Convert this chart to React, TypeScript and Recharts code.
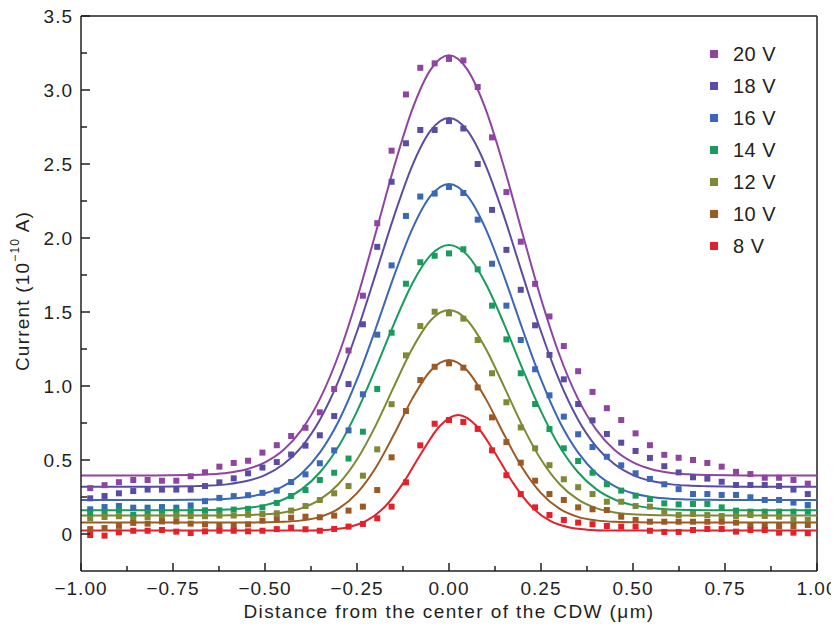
import React from 'react';
import { ComposedChart, Line, Scatter, XAxis, YAxis, ReferenceLine, Legend } from 'recharts';

// sample positions of the measured points (um)
const xPoints = [
  -0.975, -0.936, -0.897, -0.858, -0.819, -0.78, -0.741, -0.702, -0.663, -0.624,
  -0.585, -0.546, -0.507, -0.468, -0.429, -0.39, -0.351, -0.312, -0.273, -0.234,
  -0.195, -0.156, -0.117, -0.078, -0.039, 0, 0.039, 0.078, 0.117, 0.156,
  0.195, 0.234, 0.273, 0.312, 0.351, 0.39, 0.429, 0.468, 0.507, 0.546,
  0.585, 0.624, 0.663, 0.702, 0.741, 0.78, 0.819, 0.858, 0.897, 0.936, 0.975,
];

// measured currents (1e-10 A)
const pts20 = [0.31, 0.33, 0.35, 0.365, 0.365, 0.36, 0.36, 0.39, 0.417, 0.455, 0.48, 0.495, 0.55, 0.6, 0.662, 0.718, 0.822, 0.98, 1.24, 1.61, 2.1, 2.59, 2.97, 3.15, 3.18, 3.21, 3.2, 3.02, 2.68, 2.31, 1.975, 1.69, 1.47, 1.27, 1.1, 0.96, 0.85, 0.77, 0.68, 0.6, 0.535, 0.515, 0.5, 0.48, 0.455, 0.42, 0.405, 0.38, 0.38, 0.365, 0.34];
const pts18 = [0.241, 0.257, 0.275, 0.29, 0.3, 0.3, 0.3, 0.3, 0.324, 0.349, 0.376, 0.41, 0.449, 0.486, 0.537, 0.597, 0.667, 0.797, 1.013, 1.417, 1.94, 2.38, 2.64, 2.73, 2.73, 2.79, 2.74, 2.5, 2.19, 1.92, 1.65, 1.41, 1.21, 1.045, 0.878, 0.768, 0.676, 0.617, 0.561, 0.514, 0.458, 0.416, 0.383, 0.374, 0.353, 0.331, 0.331, 0.331, 0.324, 0.3, 0.27];
const pts16 = [0.167, 0.182, 0.189, 0.178, 0.178, 0.182, 0.178, 0.193, 0.222, 0.244, 0.256, 0.262, 0.278, 0.293, 0.351, 0.403, 0.478, 0.565, 0.7, 0.944, 1.347, 1.815, 2.149, 2.28, 2.3, 2.345, 2.304, 2.124, 1.826, 1.543, 1.311, 1.113, 0.937, 0.793, 0.674, 0.588, 0.522, 0.464, 0.41, 0.372, 0.336, 0.303, 0.27, 0.27, 0.264, 0.264, 0.248, 0.23, 0.23, 0.212, 0.196];
const pts14 = [0.14, 0.15, 0.16, 0.13, 0.15, 0.15, 0.155, 0.155, 0.16, 0.16, 0.165, 0.17, 0.18, 0.21, 0.257, 0.297, 0.365, 0.414, 0.51, 0.691, 0.98, 1.36, 1.691, 1.836, 1.88, 1.896, 1.924, 1.788, 1.543, 1.315, 1.086, 0.878, 0.709, 0.579, 0.493, 0.414, 0.336, 0.293, 0.259, 0.236, 0.207, 0.2, 0.203, 0.203, 0.18, 0.158, 0.151, 0.151, 0.151, 0.151, 0.151];
const pts12 = [0.105, 0.115, 0.12, 0.1, 0.115, 0.12, 0.125, 0.12, 0.12, 0.125, 0.125, 0.13, 0.135, 0.14, 0.158, 0.189, 0.23, 0.275, 0.324, 0.394, 0.572, 0.877, 1.207, 1.405, 1.502, 1.491, 1.455, 1.311, 1.086, 0.89, 0.72, 0.579, 0.465, 0.37, 0.316, 0.27, 0.218, 0.218, 0.189, 0.185, 0.151, 0.128, 0.135, 0.128, 0.122, 0.122, 0.128, 0.122, 0.117, 0.099, 0.095];
const pts10 = [0.033, 0.04, 0.055, 0.075, 0.07, 0.085, 0.085, 0.07, 0.065, 0.055, 0.055, 0.065, 0.09, 0.1, 0.11, 0.117, 0.113, 0.124, 0.158, 0.185, 0.297, 0.518, 0.831, 1.04, 1.13, 1.153, 1.124, 0.99, 0.788, 0.621, 0.482, 0.36, 0.27, 0.23, 0.18, 0.167, 0.162, 0.117, 0.095, 0.083, 0.083, 0.083, 0.083, 0.083, 0.083, 0.077, 0.061, 0.054, 0.054, 0.054, 0.061];
const pts8 = [-0.007, -0.011, 0.011, 0.022, 0.022, 0.027, 0.016, 0.007, 0.018, 0.022, 0.022, 0.018, 0.022, 0.033, 0.043, 0.032, 0.022, 0.034, 0.05, 0.068, 0.106, 0.185, 0.349, 0.599, 0.745, 0.77, 0.757, 0.71, 0.565, 0.397, 0.27, 0.18, 0.128, 0.095, 0.077, 0.066, 0.054, 0.05, 0.05, 0.022, 0.014, 0.014, 0.027, 0.034, 0.034, 0.016, 0.027, 0.027, 0.009, 0.009, 0.005];

// fitted curves
const xFit = [-1, -0.9, -0.8, -0.7, -0.65, -0.6, -0.55, -0.5, -0.45, -0.4, -0.35, -0.3, -0.25, -0.2, -0.15, -0.1, -0.05, 0, 0.05, 0.1, 0.15, 0.2, 0.25, 0.3, 0.35, 0.4, 0.45, 0.5, 0.55, 0.6, 0.65, 0.7, 0.8, 0.9, 1];
const fit20 = [0.395, 0.395, 0.396, 0.398, 0.403, 0.414, 0.438, 0.484, 0.567, 0.705, 0.916, 1.211, 1.59, 2.027, 2.475, 2.868, 3.138, 3.235, 3.138, 2.868, 2.475, 2.027, 1.59, 1.211, 0.916, 0.705, 0.567, 0.484, 0.438, 0.414, 0.403, 0.398, 0.396, 0.395, 0.395];
const fit18 = [0.32, 0.32, 0.32, 0.323, 0.327, 0.337, 0.358, 0.398, 0.471, 0.591, 0.776, 1.036, 1.368, 1.751, 2.143, 2.488, 2.725, 2.81, 2.725, 2.488, 2.143, 1.751, 1.368, 1.036, 0.776, 0.591, 0.471, 0.398, 0.358, 0.337, 0.327, 0.323, 0.32, 0.32, 0.32];
const fit16 = [0.23, 0.23, 0.23, 0.231, 0.233, 0.238, 0.25, 0.275, 0.324, 0.411, 0.553, 0.762, 1.044, 1.382, 1.739, 2.06, 2.284, 2.365, 2.284, 2.06, 1.739, 1.382, 1.044, 0.762, 0.553, 0.411, 0.324, 0.275, 0.25, 0.238, 0.233, 0.231, 0.23, 0.23, 0.23];
const fit14 = [0.16, 0.16, 0.16, 0.161, 0.162, 0.166, 0.175, 0.195, 0.233, 0.303, 0.419, 0.593, 0.829, 1.114, 1.417, 1.691, 1.884, 1.953, 1.884, 1.691, 1.417, 1.114, 0.829, 0.593, 0.419, 0.303, 0.233, 0.195, 0.175, 0.166, 0.162, 0.161, 0.16, 0.16, 0.16];
const fit12 = [0.125, 0.125, 0.125, 0.125, 0.125, 0.126, 0.128, 0.133, 0.146, 0.175, 0.234, 0.338, 0.503, 0.729, 0.994, 1.252, 1.443, 1.513, 1.443, 1.252, 0.994, 0.729, 0.503, 0.338, 0.234, 0.175, 0.146, 0.133, 0.128, 0.126, 0.125, 0.125, 0.125, 0.125, 0.125];
const fit10 = [0.078, 0.078, 0.078, 0.078, 0.078, 0.078, 0.078, 0.079, 0.082, 0.092, 0.116, 0.171, 0.276, 0.444, 0.67, 0.913, 1.103, 1.176, 1.103, 0.913, 0.67, 0.444, 0.276, 0.171, 0.116, 0.092, 0.082, 0.079, 0.078, 0.078, 0.078, 0.078, 0.078, 0.078, 0.078];
const xFit8 = [-1, -0.8, -0.6, -0.475, -0.425, -0.375, -0.325, -0.275, -0.225, -0.175, -0.125, -0.075, -0.025, 0.025, 0.075, 0.125, 0.175, 0.225, 0.275, 0.325, 0.375, 0.425, 0.475, 0.525, 0.6, 0.8, 1];
const fit8 = [0.023, 0.023, 0.023, 0.023, 0.023, 0.024, 0.029, 0.045, 0.088, 0.182, 0.342, 0.547, 0.73, 0.804, 0.73, 0.547, 0.342, 0.182, 0.088, 0.045, 0.029, 0.024, 0.023, 0.023, 0.023, 0.023, 0.023];

const seriesNames = ['20 V', '18 V', '16 V', '14 V', '12 V', '10 V', '8 V'];
const xTicks = [-1, -0.875, -0.75, -0.625, -0.5, -0.375, -0.25, -0.125, 0, 0.125, 0.25, 0.375, 0.5, 0.625, 0.75, 0.875, 1];
const yTicks = [-0.25, 0, 0.25, 0.5, 0.75, 1, 1.25, 1.5, 1.75, 2, 2.25, 2.5, 2.75, 3, 3.25, 3.5];

const COLORS = ['#8E44A0', '#5A4CA2', '#3A67B6', '#1A9B5E', '#7F8834', '#9B5A24', '#E2212B'];
const INK = '#231F20';
const FONT = '"Liberation Sans", Arial, Helvetica, sans-serif';

const pointSets = [pts20, pts18, pts16, pts14, pts12, pts10, pts8];
const fitSets = [fit20, fit18, fit16, fit14, fit12, fit10, fit8];
const fitXs = [xFit, xFit, xFit, xFit, xFit, xFit, xFit8];

const series = seriesNames.map((name, i) => ({
  name,
  color: COLORS[i],
  points: xPoints.map((x, j) => ({ x, y: pointSets[i][j] })),
  fit: fitXs[i].map((x, j) => ({ x, y: fitSets[i][j] })),
}));

const isMult = (v: number, step: number) => Math.abs(v / step - Math.round(v / step)) < 1e-6;

function XTick(props: any) {
  const { x, y, payload } = props;
  const v = payload.value as number;
  const major = isMult(v, 0.25);
  const label = v < 0 ? '\u2212' + Math.abs(v).toFixed(2) : v.toFixed(2);
  return (
    <g>
      <line x1={x} x2={x} y1={y} y2={y - (major ? 8 : 5)} stroke={INK} strokeWidth={1.5} />
      {major && (
        <text x={x} y={y + 24} textAnchor="middle" fill={INK} fontSize={19} fontFamily={FONT} letterSpacing={1}>
          {label}
        </text>
      )}
    </g>
  );
}

function YTick(props: any) {
  const { x, y, payload } = props;
  const v = payload.value as number;
  if (v < 0) return <g />;
  const major = isMult(v, 0.5);
  const label = v === 0 ? '0' : v.toFixed(1);
  return (
    <g>
      <line x1={x} x2={x + (major ? 9 : 6)} y1={y} y2={y} stroke={INK} strokeWidth={1.5} />
      {major && (
        <text x={x - 8} y={y} dy="0.36em" textAnchor="end" fill={INK} fontSize={19} fontFamily={FONT} letterSpacing={1}>
          {label}
        </text>
      )}
    </g>
  );
}

function YTitle() {
  return (
    <text
      transform="translate(22,291) rotate(-90)"
      textAnchor="middle"
      dominantBaseline="central"
      fill={INK}
      fontSize={19}
      fontFamily={FONT}
      letterSpacing={1.2}
    >
      Current (10
      <tspan dy={-7} fontSize={12}>{'\u221210'}</tspan>
      <tspan dy={7}> A)</tspan>
    </text>
  );
}

function XTitle() {
  return (
    <text x={449} y={611} textAnchor="middle" dominantBaseline="central" fill={INK} fontSize={19} fontFamily={FONT} letterSpacing={1.4}>
      Distance from the center of the CDW ({'\u03bc'}m)
    </text>
  );
}

function LegendBox() {
  return (
    <div style={{ fontFamily: FONT }}>
      {series.map((s) => (
        <div key={s.name} style={{ display: 'flex', alignItems: 'center', height: 32 }}>
          <div style={{ width: 8, height: 8, background: s.color, marginRight: 15 }} />
          <span style={{ fontSize: 20, color: INK, letterSpacing: 0.5 }}>{s.name}</span>
        </div>
      ))}
    </div>
  );
}

export default function App() {
  return (
    <div style={{ margin: '-8px 0 0 -8px', width: 839, height: 632 }}>
      <ComposedChart width={839} height={632} margin={{ top: 16, right: 22, left: 0, bottom: 11 }}>
        <XAxis
          dataKey="x"
          type="number"
          domain={[-1, 1]}
          allowDataOverflow
          ticks={xTicks}
          interval={0}
          tickSize={0}
          tickMargin={0}
          tickLine={false}
          axisLine={{ stroke: INK, strokeWidth: 1.5 }}
          tick={<XTick />}
          height={50}
          label={<XTitle />}
        />
        <YAxis
          type="number"
          domain={[-0.25, 3.5]}
          allowDataOverflow
          ticks={yTicks}
          interval={0}
          tickSize={0}
          tickMargin={0}
          tickLine={false}
          axisLine={{ stroke: INK, strokeWidth: 1.5 }}
          tick={<YTick />}
          width={81}
          label={<YTitle />}
        />
        <ReferenceLine y={3.5} stroke={INK} strokeWidth={1.5} />
        <ReferenceLine x={1} stroke={INK} strokeWidth={1.5} />
        {series.map((s) => (
          <Line
            key={'fit' + s.name}
            data={s.fit}
            dataKey="y"
            type="monotone"
            stroke={s.color}
            strokeWidth={2}
            dot={false}
            activeDot={false}
            isAnimationActive={false}
            legendType="none"
          />
        ))}
        {series.map((s) => (
          <Scatter
            key={'pts' + s.name}
            name={s.name}
            data={s.points}
            dataKey="y"
            fill={s.color}
            isAnimationActive={false}
            shape={(p: any) => <rect x={p.cx - 3} y={p.cy - 3} width={6} height={6} fill={s.color} />}
          />
        ))}
        <Legend
          layout="horizontal"
          verticalAlign="middle"
          align="center"
          content={() => <LegendBox />}
          wrapperStyle={{ position: 'absolute', left: 710, top: 38, width: 110, height: 230 }}
        />
      </ComposedChart>
    </div>
  );
}
